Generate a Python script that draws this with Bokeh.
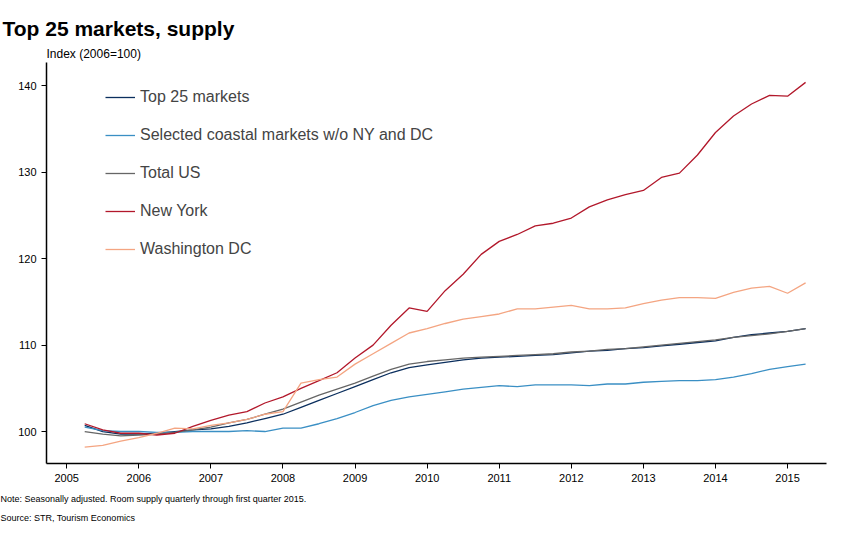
from bokeh.plotting import figure
from bokeh.models import Legend, LegendItem, Title, FixedTicker
from bokeh.embed import file_html
from bokeh.resources import INLINE

quarters = [2005.25 + 0.25 * k for k in range(41)]

top25 = [100.7, 100.0, 99.7, 99.7, 99.8, 100.0, 100.2, 100.3, 100.6, 101.0, 101.5, 102.0, 102.8, 103.6,
         104.4, 105.2, 106.0, 106.8, 107.4, 107.7, 108.0, 108.3, 108.5, 108.6, 108.7, 108.8, 108.9,
         109.1, 109.3, 109.4, 109.6, 109.7, 109.9, 110.1, 110.3, 110.5, 110.9, 111.2, 111.4, 111.6, 111.9]
coastal = [100.5, 100.1, 100.0, 100.0, 99.9, 99.9, 100.0, 100.0, 100.0, 100.1, 100.0, 100.4, 100.4, 100.9,
           101.5, 102.2, 103.0, 103.6, 104.0, 104.3, 104.6, 104.9, 105.1, 105.3, 105.2, 105.4, 105.4,
           105.4, 105.3, 105.5, 105.5, 105.7, 105.8, 105.9, 105.9, 106.0, 106.3, 106.7, 107.2, 107.5, 107.8]
total_us = [100.0, 99.7, 99.5, 99.6, 99.7, 99.9, 100.2, 100.5, 101.0, 101.4, 102.0, 102.6, 103.4, 104.2,
            104.9, 105.6, 106.4, 107.2, 107.8, 108.1, 108.3, 108.5, 108.6, 108.7, 108.8, 108.9, 109.0,
            109.2, 109.3, 109.5, 109.6, 109.8, 110.0, 110.2, 110.4, 110.6, 110.9, 111.1, 111.3, 111.6, 111.9]
new_york = [100.9, 100.2, 99.8, 99.8, 99.6, 99.8, 100.6, 101.3, 101.9, 102.3, 103.3, 104.0, 105.0, 105.9,
            106.8, 108.5, 110.0, 112.3, 114.3, 113.9, 116.3, 118.2, 120.5, 122.0, 122.8, 123.8, 124.1,
            124.7, 126.0, 126.8, 127.4, 127.9, 129.4, 129.9, 132.0, 134.6, 136.5, 137.9, 138.9, 138.8, 140.4]
washington = [98.2, 98.4, 98.9, 99.3, 99.8, 100.4, 100.3, 100.7, 101.0, 101.4, 102.0, 102.3, 105.6, 106.0,
              106.3, 107.8, 109.0, 110.2, 111.4, 111.9, 112.5, 113.0, 113.3, 113.6, 114.2, 114.2, 114.4,
              114.6, 114.2, 114.2, 114.3, 114.8, 115.2, 115.5, 115.5, 115.4, 116.1, 116.6, 116.8, 116.0, 117.2]

series = [
    ("Top 25 markets", top25, "#0b2f5e"),
    ("Selected coastal markets w/o NY and DC", coastal, "#3a8fc4"),
    ("Total US", total_us, "#666666"),
    ("New York", new_york, "#b2182b"),
    ("Washington DC", washington, "#f4a582"),
]

x_ticks = list(range(2005, 2016))
y_ticks = [100, 110, 120, 130, 140]

FONT = "Liberation Sans"

p = figure(width=848, height=531, output_backend="svg", toolbar_location=None,
           x_range=(2004.72, 2015.54), y_range=(96.3, 142.7),
           min_border_left=46, min_border_right=22, min_border_top=62, min_border_bottom=68)
p.outline_line_color = None
p.grid.grid_line_color = None
p.background_fill_color = "white"

for ax in (p.xaxis, p.yaxis):
    ax.axis_line_color = "black"
    ax.axis_line_width = 1.5
    ax.major_tick_line_color = "black"
    ax.major_tick_out = 5
    ax.major_tick_in = 0
    ax.minor_tick_line_color = None
    ax.major_label_text_font = FONT
    ax.major_label_text_font_size = "11px"
    ax.major_label_text_color = "black"
p.xaxis.ticker = FixedTicker(ticks=x_ticks)
p.yaxis.ticker = FixedTicker(ticks=y_ticks)

items = []
for name, vals, color in series:
    r = p.line(quarters, vals, line_color=color, line_width=1.3)
    items.append(LegendItem(label=name, renderers=[r]))

legend = Legend(items=items, location=(59, 204), glyph_width=30, label_height=20, glyph_height=20,
                spacing=18, padding=0, margin=0, label_text_font=FONT, label_text_font_size="16px",
                border_line_color=None, background_fill_alpha=0)
p.add_layout(legend, "center")

p.add_layout(Title(text="Index (2006=100)", text_font=FONT, text_font_size="12px", text_color="black",
                   text_font_style="normal", offset=0, standoff=4), "above")
p.add_layout(Title(text="Top 25 markets, supply", text_font=FONT, text_font_size="21px", text_color="black",
                   text_font_style="bold", offset=-44, standoff=6), "above")
p.add_layout(Title(text="Note: Seasonally adjusted. Room supply quarterly through first quarter 2015.",
                   text_font=FONT, text_font_size="9px", text_color="black", text_font_style="normal",
                   offset=-46, standoff=14), "below")
p.add_layout(Title(text="Source: STR, Tourism Economics", text_font=FONT, text_font_size="9px",
                   text_color="black", text_font_style="normal", offset=-46, standoff=1), "below")

open("out.html", "w").write(file_html(p, INLINE))
